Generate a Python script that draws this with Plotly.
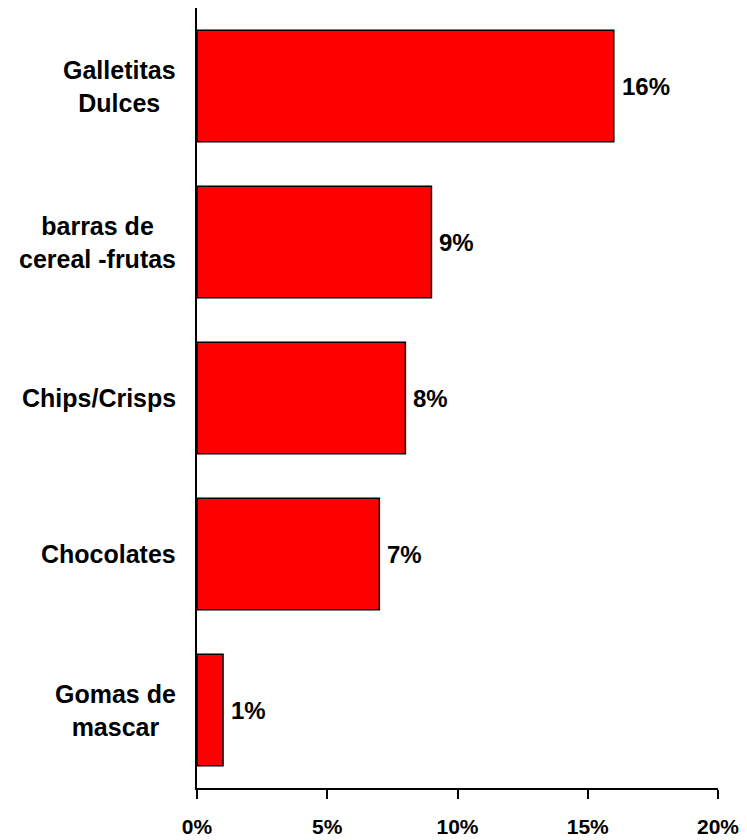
import plotly.graph_objects as go

categories = ["Galletitas<br>Dulces", "barras de<br>cereal -frutas", "Chips/Crisps",
              "Chocolates", "Gomas de<br>mascar"]
values = [16, 9, 8, 7, 1]
value_labels = ["16%", "9%", "8%", "7%", "1%"]
x_ticks = [0, 5, 10, 15, 20]
x_tick_labels = ["0%", "5%", "10%", "15%", "20%"]

FONT = "Liberation Sans, Arial, sans-serif"

fig = go.Figure(go.Bar(
    x=values,
    y=categories,
    orientation="h",
    marker=dict(color="#ff0000", line=dict(color="#000000", width=1.5)),
    hoverinfo="skip",
))

# category labels: block right-aligned, lines centred within the block
for cat in categories:
    fig.add_annotation(
        x=0, xref="paper", y=cat, yref="y",
        text=cat, showarrow=False,
        xanchor="right", align="center", xshift=-19,
        font=dict(family=FONT, size=25, color="#000000", weight="bold"),
    )

# value labels beside each bar
for cat, v, lab in zip(categories, values, value_labels):
    fig.add_annotation(
        x=v, y=cat, text="<b>" + lab + "</b>", showarrow=False,
        xanchor="left", xshift=6,
        font=dict(family=FONT, size=24, color="#000000"),
    )

fig.update_xaxes(
    range=[0, 20],
    tickvals=x_ticks, ticktext=x_tick_labels,
    ticks="outside", ticklen=9, tickwidth=1.5, tickcolor="#000000",
    ticklabelstandoff=10,
    showline=True, linecolor="#000000", linewidth=1.5,
    showgrid=False, zeroline=False,
    tickfont=dict(family=FONT, size=21, color="#000000", weight="bold"),
)
fig.update_yaxes(
    autorange="reversed",
    showticklabels=False, ticks="",
    showline=True, linecolor="#000000", linewidth=1.5,
    showgrid=False, zeroline=False,
)

# page body has an 8px margin, so the figure is a little smaller than the window
fig.update_layout(
    width=739, height=832,
    margin=dict(l=189, r=29, t=0, b=52),
    bargap=0.284,
    plot_bgcolor="#ffffff", paper_bgcolor="#ffffff",
    showlegend=False,
)

fig.write_html("out.html")
